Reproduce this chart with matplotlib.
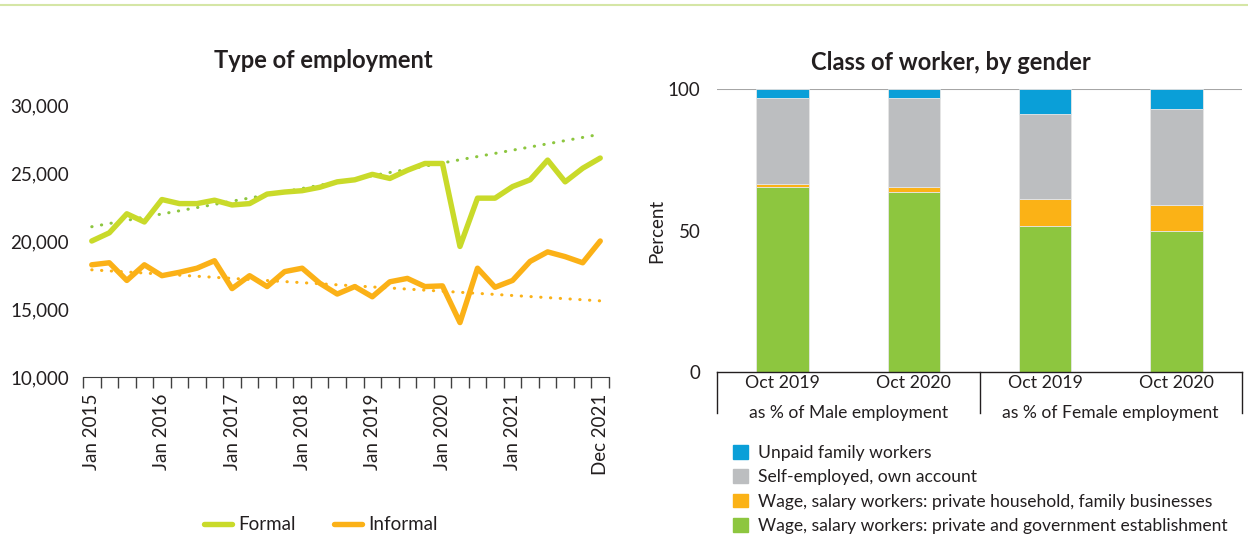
import matplotlib
matplotlib.use("Agg")
import matplotlib.pyplot as plt
import numpy as np
from matplotlib.patches import Patch
from matplotlib.lines import Line2D

plt.rcParams['font.family'] = ['Lato', 'DejaVu Sans']

# Left panel: type of employment (30 periods, Jan 2015 - Dec 2021)
n_periods = 30
formal = [20000, 20600, 22000, 21400, 23050, 22750, 22750, 23000, 22650, 22750,
          23450, 23600, 23700, 23950, 24350, 24500, 24900, 24600, 25200, 25700,
          25700, 19600, 23150, 23150, 24000, 24500, 25950, 24350, 25350, 26100]
informal = [18250, 18400, 17100, 18250, 17450, 17700, 18000, 18550, 16500, 17450,
            16650, 17750, 18000, 16900, 16100, 16650, 15900, 17000, 17250, 16650,
            16700, 14000, 18000, 16600, 17100, 18500, 19200, 18850, 18400, 20000]
# linear trend lines (start, end)
formal_trend = [21050, 27850]
informal_trend = [17880, 15600]
label_pos = [0, 4, 8, 12, 16, 20, 24, 29]
label_txt = ["Jan 2015", "Jan 2016", "Jan 2017", "Jan 2018", "Jan 2019",
             "Jan 2020", "Jan 2021", "Dec 2021"]

# Right panel: class of worker by gender (percent)
bar_labels = ["Oct 2019", "Oct 2020", "Oct 2019", "Oct 2020"]
groups = ["as % of Male employment", "as % of Female employment"]
wage_private = [65.5, 63.7, 51.7, 49.8]
wage_household = [0.9, 1.8, 9.3, 9.2]
self_employed = [30.3, 31.2, 30.2, 34.0]
unpaid = [3.3, 3.3, 8.8, 7.0]

c_formal = "#C9DA2A"
c_informal = "#FBB117"
c_green = "#8DC63F"
c_orange = "#FBB216"
c_gray = "#BCBEC0"
c_blue = "#0A9FD8"
txt = "#231F20"
fs = 13.5

fig = plt.figure(figsize=(12.48, 5.37), dpi=100)
W, H = 1248, 537

# decorative line at top
fig.add_artist(Line2D([0, 1], [1 - 5 / H, 1 - 5 / H], color="#D5E6A6", lw=1.5))

# ---------- left chart ----------
ax1 = fig.add_axes([83 / W, 1 - 377 / H, 526 / W, 272 / H])
x = np.arange(n_periods)
ax1.plot(x, formal, color=c_formal, lw=3.9, solid_joinstyle="round",
         solid_capstyle="round", label="Formal", zorder=3)
ax1.plot(x, informal, color=c_informal, lw=3.9, solid_joinstyle="round",
         solid_capstyle="round", label="Informal", zorder=3)

ends = [0, n_periods - 1]
ax1.plot(ends, formal_trend, color="#8DC63F", lw=2.2, linestyle=(0, (0.1, 3.1)),
         dash_capstyle="round", zorder=2)
ax1.plot(ends, informal_trend, color=c_informal, lw=2.2, linestyle=(0, (0.1, 3.1)),
         dash_capstyle="round", zorder=2)

ax1.set_xlim(-0.5, n_periods - 0.5)
ax1.set_ylim(10000, 30000)
yt = [10000, 15000, 20000, 25000, 30000]
ax1.set_yticks(yt)
ax1.set_yticklabels([f"{v:,}" for v in yt])
ax1.tick_params(axis="y", length=0, pad=10, labelsize=fs, labelcolor=txt)
ax1.set_xticks(np.arange(n_periods + 1) - 0.5)
ax1.set_xticklabels([])
ax1.tick_params(axis="x", which="major", length=8, width=1, color="#404040")
ax1.set_xticks(label_pos, minor=True)
ax1.set_xticklabels(label_txt, minor=True, rotation=90, fontsize=fs, color=txt)
ax1.tick_params(axis="x", which="minor", length=0, pad=12)
for s in ["top", "right", "left"]:
    ax1.spines[s].set_visible(False)
ax1.spines["bottom"].set_color("#404040")
fig.text(323 / W, 1 - 60 / H, "Type of employment", fontsize=17, fontweight="bold",
         color=txt, ha="center", va="center")

leg1 = ax1.legend(loc="center", bbox_to_anchor=(321 / W, 1 - 525 / H),
                  bbox_transform=fig.transFigure, ncol=2, frameon=False,
                  fontsize=fs, handlelength=1.5, columnspacing=2.0,
                  handletextpad=0.35)
for t in leg1.get_texts():
    t.set_color(txt)

# ---------- right chart ----------
ax2 = fig.add_axes([717 / W, 1 - 372 / H, 525 / W, 283 / H])
xb = np.arange(len(bar_labels))
bw = 0.4
ec = "#E6E6E6"
ax2.bar(xb, wage_private, bw, color=c_green, edgecolor=ec, lw=0.6)
bot = np.array(wage_private)
ax2.bar(xb, wage_household, bw, bottom=bot, color=c_orange, edgecolor=ec, lw=0.6)
bot = bot + np.array(wage_household)
ax2.bar(xb, self_employed, bw, bottom=bot, color=c_gray, edgecolor=ec, lw=0.6)
bot = bot + np.array(self_employed)
ax2.bar(xb, unpaid, bw, bottom=bot, color=c_blue, edgecolor=ec, lw=0.6)

ax2.set_xlim(-0.5, len(bar_labels) - 0.5)
ax2.set_ylim(0, 100)
ax2.axhline(100, color="#A6A6A6", lw=1.5, zorder=0)
ax2.set_yticks([0, 50, 100])
ax2.tick_params(axis="y", length=0, pad=12, labelsize=fs, labelcolor=txt)
ax2.set_ylabel("Percent", fontsize=fs, color=txt, labelpad=2)
ax2.set_xticks(xb)
ax2.set_xticklabels(bar_labels, fontsize=12.8, color=txt)
ax2.tick_params(axis="x", length=0, pad=2)
for s in ["top", "right", "left"]:
    ax2.spines[s].set_visible(False)
ax2.spines["bottom"].set_color("#231F20")
ax2.spines["bottom"].set_linewidth(1)
fig.text(951 / W, 1 - 62 / H, "Class of worker, by gender", fontsize=17,
         fontweight="bold", color=txt, ha="center", va="center")

trans = ax2.get_xaxis_transform()
for xv in [-0.5, 1.5, 3.5]:
    ax2.plot([xv, xv], [0, -41 / 283], color="#231F20", lw=1, transform=trans,
             clip_on=False)
for gi, g in enumerate(groups):
    ax2.text(gi * 2 + 0.5, -41 / 283, g, transform=trans, ha="center", va="center",
             fontsize=12.6, color=txt)

handles = [Patch(color=c_blue), Patch(color=c_gray), Patch(color=c_orange),
           Patch(color=c_green)]
names = ["Unpaid family workers", "Self-employed, own account",
         "Wage, salary workers: private household, family businesses",
         "Wage, salary workers: private and government establishment"]
leg2 = fig.legend(handles, names, loc="upper left",
                  bbox_to_anchor=(726 / W, 1 - 438 / H), frameon=False,
                  fontsize=12.6, handlelength=0.85, handleheight=0.85,
                  handletextpad=0.6, labelspacing=0.47, borderaxespad=0)
for t in leg2.get_texts():
    t.set_color(txt)

fig.savefig("out.png", dpi=100)
